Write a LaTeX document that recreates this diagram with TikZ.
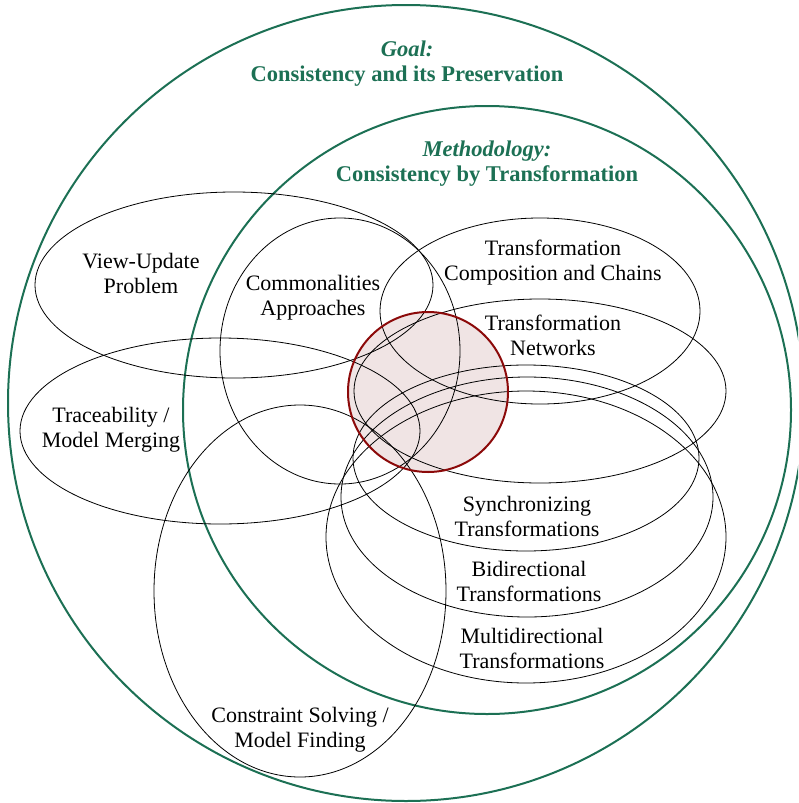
\documentclass[tikz,border=0pt]{standalone}
\usepackage{fontspec}
\setmainfont{Liberation Serif}
\definecolor{goalgreen}{RGB}{28,112,84}
\definecolor{coredred}{RGB}{140,10,10}
\definecolor{corefill}{RGB}{240,228,228}
\begin{document}
\begin{tikzpicture}[x=1pt,y=-1pt,
  arealine/.style={draw=black,line width=0.8pt},
  greenline/.style={draw=goalgreen,line width=2pt},
  lbl/.style={align=center,inner sep=0pt,font=\fontsize{22}{25}\selectfont},
  ttl/.style={align=center,inner sep=0pt,text=goalgreen,font=\fontsize{22.5}{25}\selectfont\bfseries}]
\useasboundingbox (0,0) rectangle (798,803);
\clip (0,0) rectangle (798,803);
% core
\fill[corefill] (428,392) circle [radius=80pt];
% green circles
\draw[greenline] (406,403) circle [radius=398pt];
\draw[greenline] (487,410) circle [radius=304pt];
% area ellipses
\draw[arealine] (234,285) ellipse [x radius=199pt, y radius=93pt];
\draw[arealine] (220,431) ellipse [x radius=200pt, y radius=93pt];
\draw[arealine] (340,351) ellipse [x radius=120pt, y radius=133pt];
\draw[arealine] (300,591) ellipse [x radius=146pt, y radius=186pt];
\draw[arealine] (540,311) ellipse [x radius=160pt, y radius=93pt];
\draw[arealine] (540,391) ellipse [x radius=186pt, y radius=92pt];
\draw[arealine] (526,458) ellipse [x radius=173pt, y radius=93pt];
\draw[arealine] (527,497) ellipse [x radius=186pt, y radius=120pt];
\draw[arealine] (526,537) ellipse [x radius=200pt, y radius=146pt];
% core outline
\draw[draw=coredred,line width=2pt] (428,392) circle [radius=80pt];
% titles
\node[ttl] (goal) at (407,64) {\textit{Goal:}\\Consistency and its Preservation};
\node[ttl] (meth) at (487,164) {\textit{Methodology:}\\Consistency by Transformation};
% labels
\node[lbl] (vu) at (141,273.5) {View-Update\\Problem};
\node[lbl] (ca) at (313,297.5) {Commonalities\\Approaches};
\node[lbl] (tr) at (111,429.5) {Traceability /\\Model Merging};
\node[lbl] (tc) at (553,263) {Transformation\\Composition and Chains};
\node[lbl] (tn) at (553,335.5) {Transformation\\Networks};
\node[lbl] (sy) at (527,516) {Synchronizing\\Transformations};
\node[lbl] (bi) at (529,581.5) {Bidirectional\\Transformations};
\node[lbl] (mu) at (532,648.5) {Multidirectional\\Transformations};
\node[lbl] (cs) at (300,730) {Constraint Solving /\\Model Finding};
\end{tikzpicture}
\end{document}
